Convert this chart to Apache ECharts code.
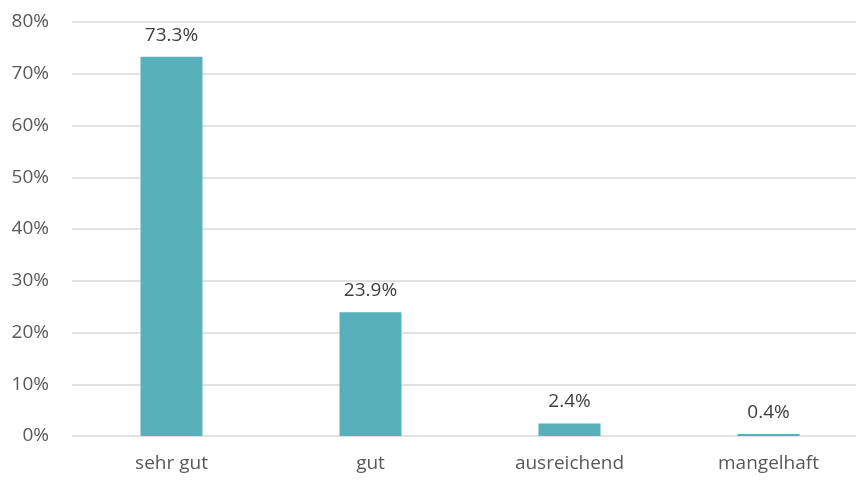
<!DOCTYPE html>
<html>
<head>
<meta charset="utf-8">
<script src="https://cdn.jsdelivr.net/npm/echarts@6/dist/echarts.min.js"></script>
<style>
  html, body { margin: 0; padding: 0; background: #fff; overflow: hidden; }
  #chart { width: 868px; height: 480px; }
</style>
</head>
<body>
<div id="chart"></div>
<script>
const categories = ['sehr gut', 'gut', 'ausreichend', 'mangelhaft'];
const shares = [73.3, 23.9, 2.4, 0.4];

// plot runs a little past the right edge of the window, like the original
const chart = echarts.init(document.getElementById('chart'), null, { renderer: 'canvas' });

chart.setOption({
  animation: false,
  textStyle: { fontFamily: 'Open Sans' },
  grid: { left: 72, top: 22, right: 0, bottom: 44, containLabel: false },
  xAxis: {
    type: 'category',
    data: categories,
    axisLine: { show: false },
    axisTick: { show: false },
    axisLabel: { color: '#595959', fontSize: 19, margin: 18 }
  },
  yAxis: {
    type: 'value',
    min: 0,
    max: 80,
    interval: 10,
    axisLine: { show: false },
    axisTick: { show: false },
    axisLabel: { color: '#595959', fontSize: 19, margin: 23, formatter: '{value}%' },
    splitLine: { lineStyle: { color: '#d9d9d9', width: 1.5 } }
  },
  series: [{
    type: 'bar',
    data: shares,
    barWidth: 62,
    itemStyle: { color: '#58b1ba' },
    label: {
      show: true,
      position: 'top',
      distance: 12,
      color: '#404040',
      fontSize: 19,
      formatter: p => p.value.toFixed(1) + '%'
    }
  }]
});
</script>
</body>
</html>
